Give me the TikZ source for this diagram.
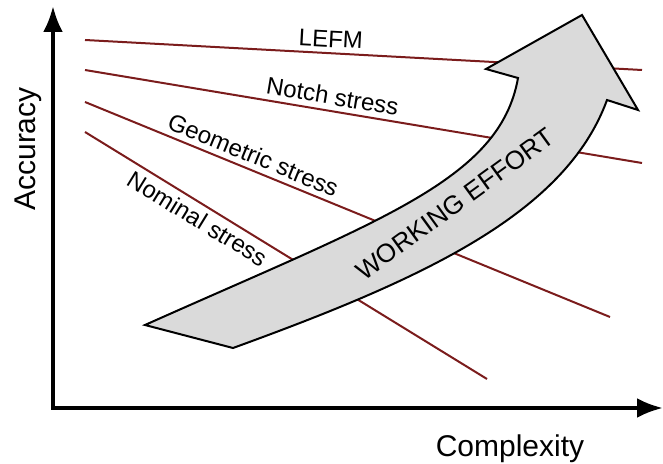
\documentclass[tikz,border=0pt]{standalone}
\usepackage{fontspec}
\setmainfont{Liberation Sans}
\usetikzlibrary{arrows.meta}
\definecolor{linered}{HTML}{7B1C1C}
\definecolor{arrowgray}{HTML}{DADADA}

\begin{document}
\begin{tikzpicture}[
    x=0.5pt, y=-0.5pt,
    axis/.style={line width=2pt, line join=miter,
        {Latex[length=13pt,width=10pt]}-{Latex[length=13pt,width=10pt]}},
    stressline/.style={draw=linered, line width=1pt},
    lbl/.style={font=\fontsize{12}{14}\selectfont, sloped, inner sep=2.5pt},
    axlabel/.style={font=\fontsize{15}{18}\selectfont},
    effort/.style={draw=black, line width=1pt, fill=arrowgray, line join=miter}
]
\useasboundingbox (0,0) rectangle (663,464);

% axes
\coordinate (ytip) at (53,6);
\coordinate (orig) at (53,408);
\coordinate (xtip) at (663,408);
\draw[axis] (ytip) -- (orig) -- (xtip);
\node[axlabel, rotate=90] (accuracy)   at (28,149)  {Accuracy};
\node[axlabel]            (complexity) at (510,449) {Complexity};

% stress concepts
\coordinate (lefmA)  at (85,40);  \coordinate (lefmB)  at (642,70);
\coordinate (notchA) at (85,70);  \coordinate (notchB) at (642,163);
\coordinate (geomA)  at (85,102); \coordinate (geomB)  at (610,317);
\coordinate (nomA)   at (85,132); \coordinate (nomB)   at (487,379);
\draw[stressline] (lefmA)  -- (lefmB)  node[lbl, pos=.44, above] (lefm)  {LEFM};
\draw[stressline] (notchA) -- (notchB) node[lbl, pos=.44, above] (notch) {Notch stress};
\draw[stressline] (geomA)  -- (geomB)  node[lbl, pos=.31, above] (geom)  {Geometric stress};
\draw[stressline] (nomA)   -- (nomB)   node[lbl, pos=.30, below] (nom)   {Nominal stress};

% working effort arrow
\coordinate (tailL) at (145,325);
\coordinate (tailB) at (233,348);
\coordinate (neckR) at (607,100);
\coordinate (barbR) at (638,110);
\coordinate (tip)   at (582,15);
\coordinate (barbL) at (486,69);
\coordinate (neckL) at (518,78);
\draw[effort] (tailL) -- (tailB) .. controls (420,280) and (565,215) .. (neckR)
    -- (barbR) -- (tip) -- (barbL) -- (neckL)
    .. controls (500,180) and (380,220) .. (tailL) -- cycle;
\node[font=\fontsize{13}{15}\selectfont, rotate=36, inner sep=1pt] (effortlbl) at (455,204) {WORKING EFFORT};
\end{tikzpicture}
\end{document}
